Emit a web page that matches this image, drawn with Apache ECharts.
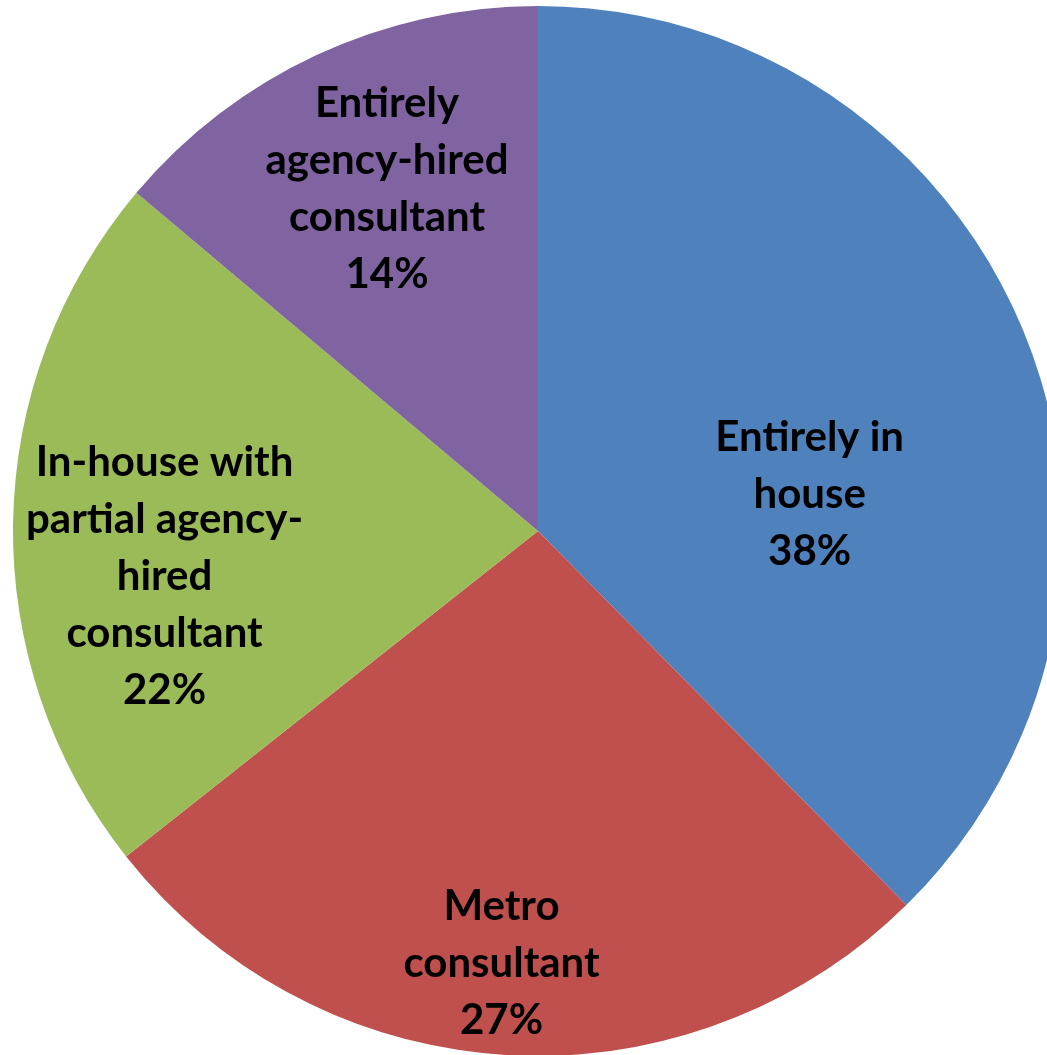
<!DOCTYPE html>
<html>
<head>
<meta charset="utf-8">
<script src="https://cdn.jsdelivr.net/npm/echarts@6/dist/echarts.min.js"></script>
<style>
  html, body { margin: 0; padding: 0; background: #fff; }
  #chart { width: 1047px; height: 1055px; }
</style>
</head>
<body>
<div id="chart"></div>
<script>
// slices, clockwise from 12 o'clock
const categories = [
  'Entirely in\nhouse',
  'Metro\nconsultant',
  'In-house with\npartial agency-\nhired\nconsultant',
  'Entirely\nagency-hired\nconsultant'
]
const values = [38, 27, 22, 14]

const colors = ['#4F81BD', '#C0504D', '#9BBB59', '#8064A2']
// nudges so labels sit where Excel put them
const labelOffsets = [[26, 64], [-20, 167], [-108, 50], [-39, -101]]

const chart = echarts.init(document.getElementById('chart'))

chart.setOption({
  animation: false,
  series: [
    {
      type: 'pie',
      center: [538, 531],
      radius: 525,
      startAngle: 90,
      clockwise: true,
      avoidLabelOverlap: false,
      itemStyle: { borderWidth: 0 },
      label: {
        show: true,
        position: 'inside',
        color: '#000',
        fontFamily: 'Lato',
        fontWeight: 'bold',
        fontSize: 42,
        lineHeight: 57,
        align: 'center',
        formatter: p => p.name + '\n' + p.value + '%'
      },
      labelLine: { show: false },
      data: values.map((v, i) => ({
        name: categories[i],
        value: v,
        itemStyle: { color: colors[i] },
        label: { offset: labelOffsets[i] }
      }))
    }
  ]
})
</script>
</body>
</html>
